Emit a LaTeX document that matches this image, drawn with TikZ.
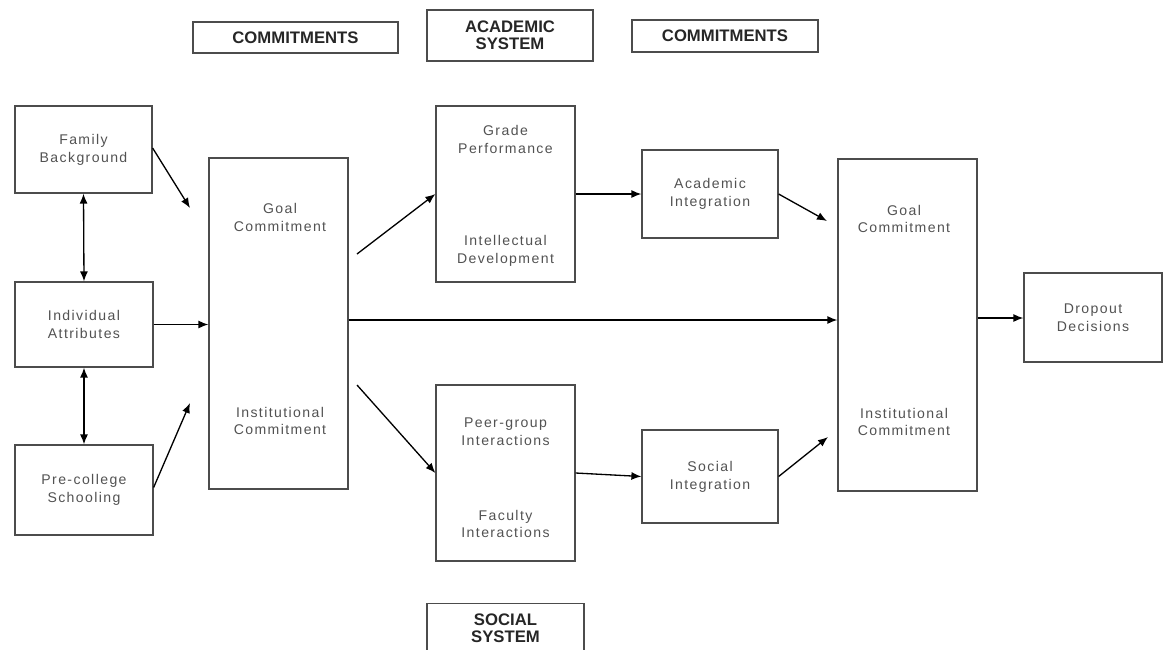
\documentclass[tikz,border=0pt]{standalone}
\usepackage{fontspec}
\setmainfont{Liberation Sans}
\newfontfamily\boxfont[LetterSpace=10]{Liberation Sans}
\usepackage{tikz}
\usetikzlibrary{arrows.meta, positioning, calc}

\definecolor{txtgray}{gray}{0.32}
\definecolor{linegray}{gray}{0.30}

\begin{document}
\begin{tikzpicture}[
    every node/.style={align=center},
    box/.style={draw=linegray, line width=0.7pt, minimum width=2.76cm, minimum height=1.76cm, inner sep=0pt, font=\boxfont\fontsize{8}{10.2}\selectfont, text=txtgray},
    tallbox/.style={box, minimum width=2.78cm, minimum height=6.62cm},
    midbox/.style={box, minimum width=2.78cm, minimum height=3.52cm},
    lbl/.style={font=\boxfont\fontsize{8}{10.2}\selectfont, text=txtgray, inner sep=0pt},
    head/.style={draw=linegray, line width=0.7pt, inner sep=0pt, font=\bfseries\fontsize{9.5}{9.6}\selectfont, text=black!85},
    arr/.style={-{Latex[length=2mm, width=1.6mm]}, line width=0.75pt},
    dblarr/.style={{Latex[length=2mm, width=1.6mm]}-{Latex[length=2mm, width=1.6mm]}, line width=0.75pt}
]

    % Picture frame (also cuts the bottom header box)
    \clip (0,0) rectangle (23.26,-12.98);

    % Header boxes
    \node[head, minimum width=4.10cm, minimum height=0.62cm] (comhead1) at (5.91,-0.75) {COMMITMENTS};
    \node[head, minimum width=3.32cm, minimum height=1.02cm] (acadhead) at (10.20,-0.71) {ACADEMIC\\SYSTEM};
    \node[head, minimum width=3.72cm, minimum height=0.64cm] (comhead2) at (14.50,-0.72) {COMMITMENTS};
    \node[head, minimum width=3.14cm, minimum height=1.00cm, anchor=north] (sochead) at (10.11,-12.06) {SOCIAL\\SYSTEM};

    % Background boxes (left column)
    \node[box, minimum height=1.74cm, minimum width=2.74cm] (family) at (1.67,-2.99) {Family\\Background};
    \node[box, minimum height=1.70cm] (indiv) at (1.68,-6.49) {Individual\\Attributes};
    \node[box, minimum height=1.80cm] (precol) at (1.68,-9.80) {Pre-college\\Schooling};

    % Initial commitments
    \node[tallbox] (commit1) at (5.57,-6.47) {};
    \node[lbl] (goal1) at (5.60,-4.35) {Goal\\Commitment};
    \node[lbl] (inst1) at (5.60,-8.42) {Institutional\\Commitment};

    % Academic system
    \node[midbox] (grade) at (10.11,-3.88) {};
    \node[lbl] (gradetxt) at (10.11,-2.79) {Grade\\Performance};
    \node[lbl] (intell) at (10.11,-5.02) {Intellectual\\Development};
    \node[box, minimum width=2.72cm, minimum height=1.76cm] (acint) at (14.20,-3.88) {Academic\\Integration};

    % Social system
    \node[midbox] (peer) at (10.11,-9.46) {};
    \node[lbl] (peertxt) at (10.11,-8.64) {Peer-group\\Interactions};
    \node[lbl] (faculty) at (10.11,-10.48) {Faculty\\Interactions};
    \node[box, minimum width=2.72cm, minimum height=1.86cm] (socint) at (14.20,-9.53) {Social\\Integration};

    % Later commitments and outcome
    \node[tallbox, minimum height=6.64cm] (commit2) at (18.15,-6.50) {};
    \node[lbl] (goal2) at (18.08,-4.38) {Goal\\Commitment};
    \node[lbl] (inst2) at (18.08,-8.44) {Institutional\\Commitment};
    \node[box, minimum height=1.78cm] (dropout) at (21.86,-6.35) {Dropout\\Decisions};

    % Free arrow ends
    \coordinate (famtip) at (3.80,-4.16);
    \coordinate (pretip) at (3.80,-8.06);
    \coordinate (gradetail) at (7.14,-5.08);
    \coordinate (peertail) at (7.14,-7.70);
    \coordinate (actip) at (16.54,-4.42);
    \coordinate (sotip) at (16.56,-8.74);

    % Left side connections
    \draw[dblarr] (family.south) -- (indiv.north);
    \draw[dblarr] (indiv.south) -- (precol.north);
    \draw[arr] ([yshift=0.03cm]family.east) -- (famtip);
    \draw[arr] (indiv.east) -- (indiv.east -| commit1.west);
    \draw[arr] ([yshift=0.05cm]precol.east) -- (pretip);

    % Into the two systems
    \draw[arr] (gradetail) -- (grade.west);
    \draw[arr] (peertail) -- (peer.west);
    \draw[arr] (grade.east) -- (acint.west);
    \draw[arr] (peer.east) -- (socint.west);

    % Into later commitments
    \draw[arr] (acint.east) -- (actip);
    \draw[arr] (socint.east) -- (sotip);
    \draw[arr] ([yshift=0.07cm]commit1.east) -- ([yshift=0.07cm]commit1.east -| commit2.west);
    \draw[arr] ([yshift=0.14cm]commit2.east) -- ([yshift=0.14cm]commit2.east -| dropout.west);

\end{tikzpicture}
\end{document}
